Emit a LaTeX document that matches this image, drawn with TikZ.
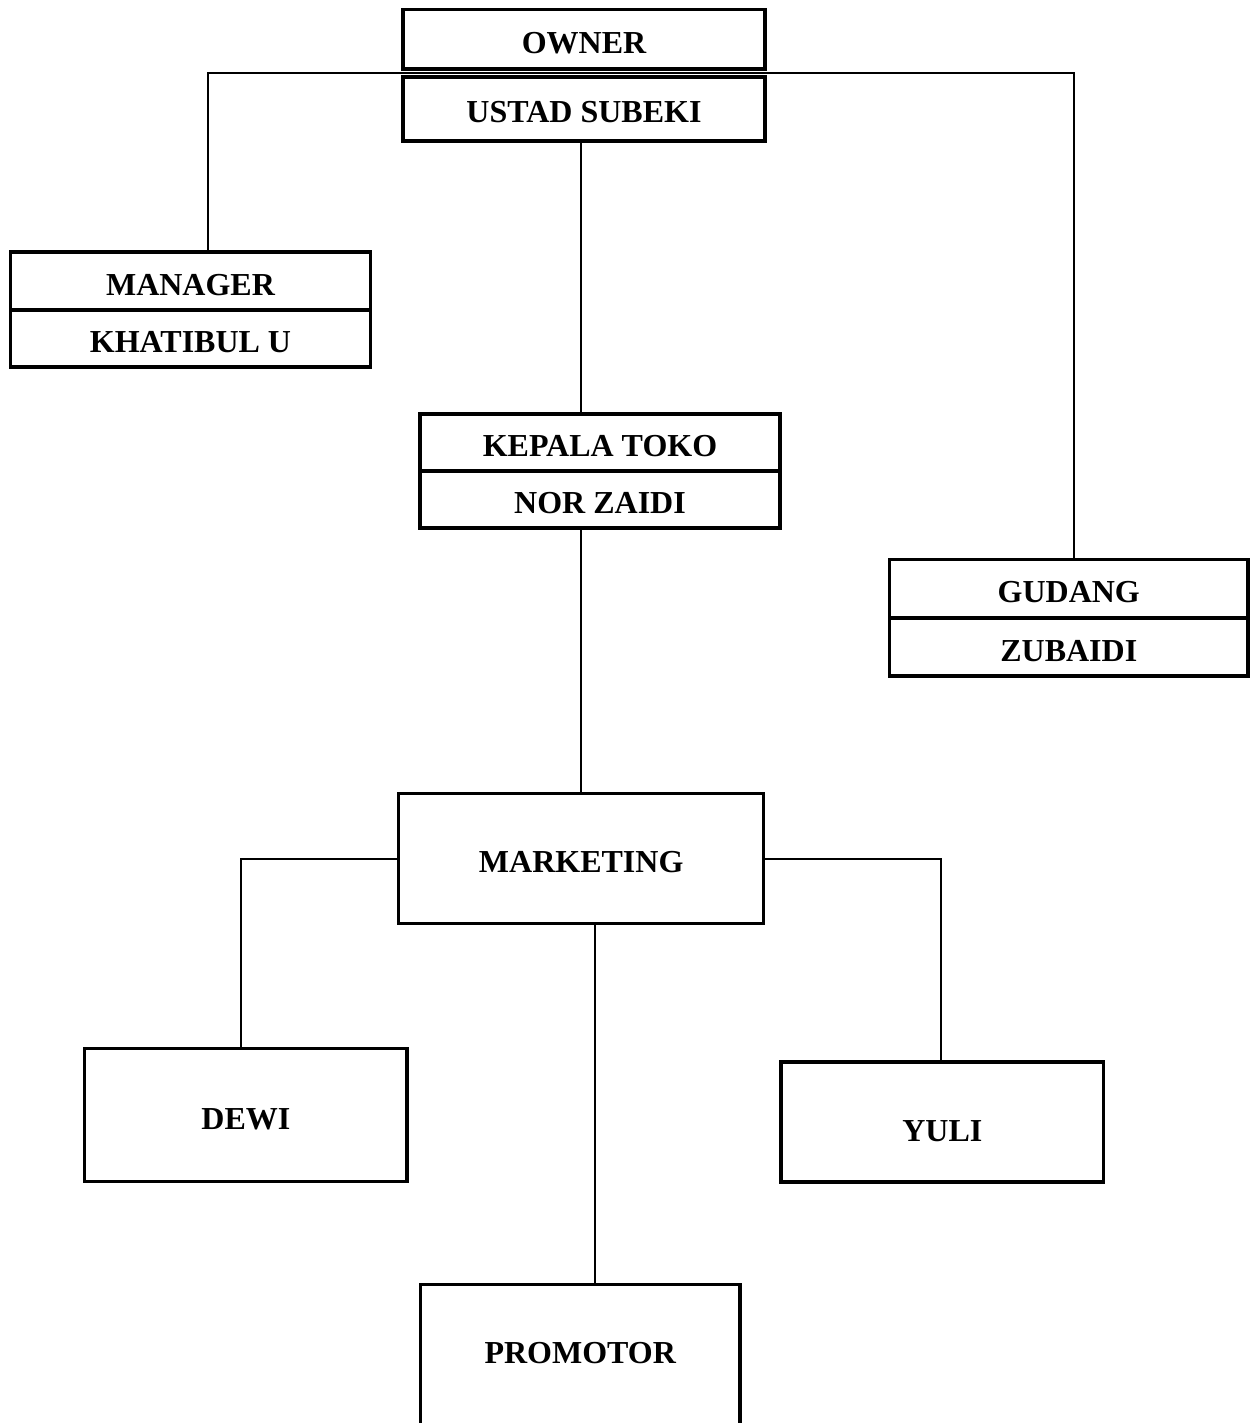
\documentclass[tikz,border=0pt]{standalone}
\usepackage{fontspec}
\setmainfont{Liberation Serif}
\begin{document}
\begin{tikzpicture}[x=0.75pt,y=-0.75pt,
  box/.style={draw, line width=2.3pt, inner sep=0pt, outer sep=0pt, align=center,
    text height=21pt, text depth=0pt,
    font=\fontsize{24}{28}\selectfont\bfseries},
  txt/.style={inner sep=0pt, font=\fontsize{24}{28}\selectfont\bfseries},
  conn/.style={line width=0.8pt}]
\useasboundingbox (0,0) rectangle (1251,1423);
\clip (0,0) rectangle (1251,1423);
\fill[white] (0,0) rectangle (1251,1423);
% owner
\node[box, minimum width=0.75*362pt, minimum height=0.75*59.5pt] (owner) at (584,39.25) {OWNER};
\node[box, minimum width=0.75*362pt, minimum height=0.75*64pt] (ustad) at (584,109) {USTAD SUBEKI};
% manager
\node[box, minimum width=0.75*360pt, minimum height=0.75*58pt] (manager) at (190.5,281) {MANAGER};
\node[box, minimum width=0.75*360pt, minimum height=0.75*57pt] (khatibul) at (190.5,338.5) {KHATIBUL U};
% kepala toko
\node[box, minimum width=0.75*360pt, minimum height=0.75*57pt] (kepala) at (600,442.5) {KEPALA TOKO};
\node[box, minimum width=0.75*360pt, minimum height=0.75*57pt] (norzaidi) at (600,499.5) {NOR ZAIDI};
% gudang
\node[box, minimum width=0.75*358.5pt, minimum height=0.75*58.5pt] (gudang) at (1068.75,588.75) {GUDANG};
\node[box, minimum width=0.75*358.5pt, minimum height=0.75*58pt] (zubaidi) at (1068.75,647) {ZUBAIDI};
% marketing
\node[box, minimum width=0.75*365pt, minimum height=0.75*130pt] (marketing) at (581.2,858.7) {MARKETING};
% dewi
\node[box, minimum width=0.75*322.3pt, minimum height=0.75*132.8pt] (dewi) at (245.85,1115.1) {DEWI};
% yuli
\node[box, minimum width=0.75*322.7pt, minimum height=0.75*120pt] (yuli) at (942.35,1122) {};
\node[txt] (yulitext) at (942.35,1131) {YULI};
% promotor
\node[box, minimum width=0.75*319.5pt, minimum height=0.75*155pt] (promotor) at (580.25,1362) {};
\node[txt] (promotortext) at (580.25,1353) {PROMOTOR};
% connectors
\coordinate (tl) at (208,73);
\coordinate (tr) at (1074,73);
\draw[conn] (manager.north -| tl) -- (tl) -- (tr) -- (gudang.north -| tr);
\coordinate (vc) at (581,0);
\draw[conn] (ustad.south -| vc) -- (kepala.north -| vc);
\draw[conn] (norzaidi.south -| vc) -- (marketing.north -| vc);
\coordinate (vp) at (595,0);
\draw[conn] (marketing.south -| vp) -- (promotor.north -| vp);
\coordinate (ml) at (241,859);
\coordinate (mr) at (941,859);
\draw[conn] (marketing.west |- ml) -- (ml) -- (dewi.north -| ml);
\draw[conn] (marketing.east |- mr) -- (mr) -- (yuli.north -| mr);
\end{tikzpicture}
\end{document}
